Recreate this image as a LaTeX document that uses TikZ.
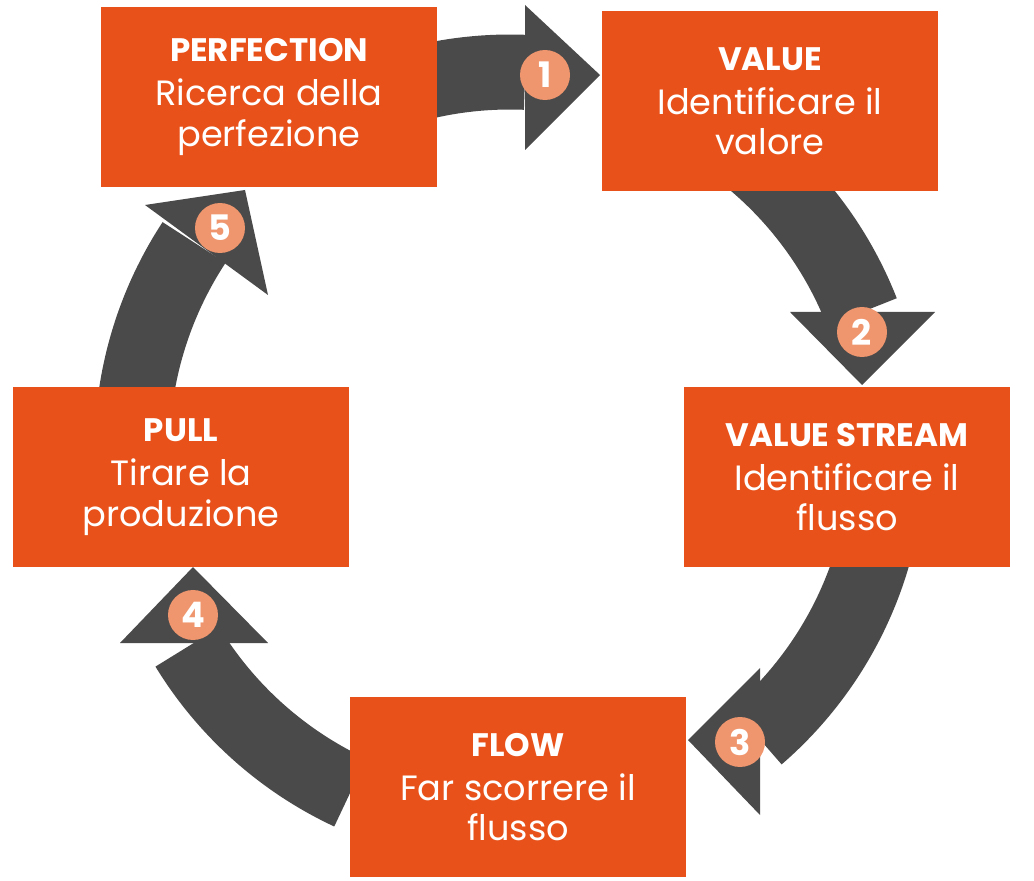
\documentclass[tikz,border=0pt]{standalone}
\usepackage{fontspec}
\setmainfont{Poppins}
\usetikzlibrary{positioning}
\definecolor{arancio}{RGB}{232,82,26}
\definecolor{grigio}{RGB}{74,74,74}
\definecolor{salmone}{RGB}{240,150,110}
\tikzset{
  fase/.style={fill=arancio, minimum width=6.72cm, minimum height=3.6cm,
               inner sep=0pt, text=white, align=center, font=\fontsize{20}{23}\selectfont},
  anello/.style={draw=grigio, line width=1.5cm},
  punta/.style={fill=grigio},
  numero/.style={circle, fill=salmone, minimum size=1cm, inner sep=0pt,
                 text=white, font=\bfseries\fontsize{20}{20}\selectfont}
}
\newcommand{\titolo}[1]{{\bfseries\fontsize{18.5}{24}\selectfont #1}\\[2pt]}
\begin{document}
\begin{tikzpicture}[x=0.02cm,y=0.02cm]
  \useasboundingbox (0,0) rectangle (1034,880);

  \begin{scope}[shift={(510,430)}]
    % archi
    \foreach \a/\b in {110/87.7, 60/21.4, -15/-49.2, 245/211.4, 175/146.7}
      \draw[anello] (\a:378) arc[start angle=\a, end angle=\b, radius=378];
  \end{scope}
  % punte
  \fill[punta] (525,875) -- (525,730) -- (600,805) -- cycle;
  \fill[punta] (790,568) -- (935,568) -- (862,495) -- cycle;
  \fill[punta] (760,212) -- (760,65) -- (688,140) -- cycle;
  \fill[punta] (120,237) -- (268,237) -- (193,313) -- cycle;
  \fill[punta] (145,675) -- (268,585) -- (245,690) -- cycle;

  \node[fase] (perfection) at (269,783) {\titolo{PERFECTION}Ricerca della\\perfezione};
  \node[fase] (value) at (770,779) {\titolo{VALUE}Identificare il\\valore};
  \node[fase, minimum width=6.52cm] (stream) at (847,403) {\titolo{VALUE STREAM}Identificare il\\flusso};
  \node[fase] (flow) at (518,93) {\titolo{FLOW}Far scorrere il\\flusso};
  \node[fase] (pull) at (181,403) {\titolo{PULL}Tirare la\\produzione};

  \node[numero] (n1) at (545,805) {1};
  \node[numero] (n2) at (862,548) {2};
  \node[numero] (n3) at (740,138) {3};
  \node[numero] (n4) at (193,265) {4};
  \node[numero] (n5) at (220,652) {5};
\end{tikzpicture}
\end{document}
